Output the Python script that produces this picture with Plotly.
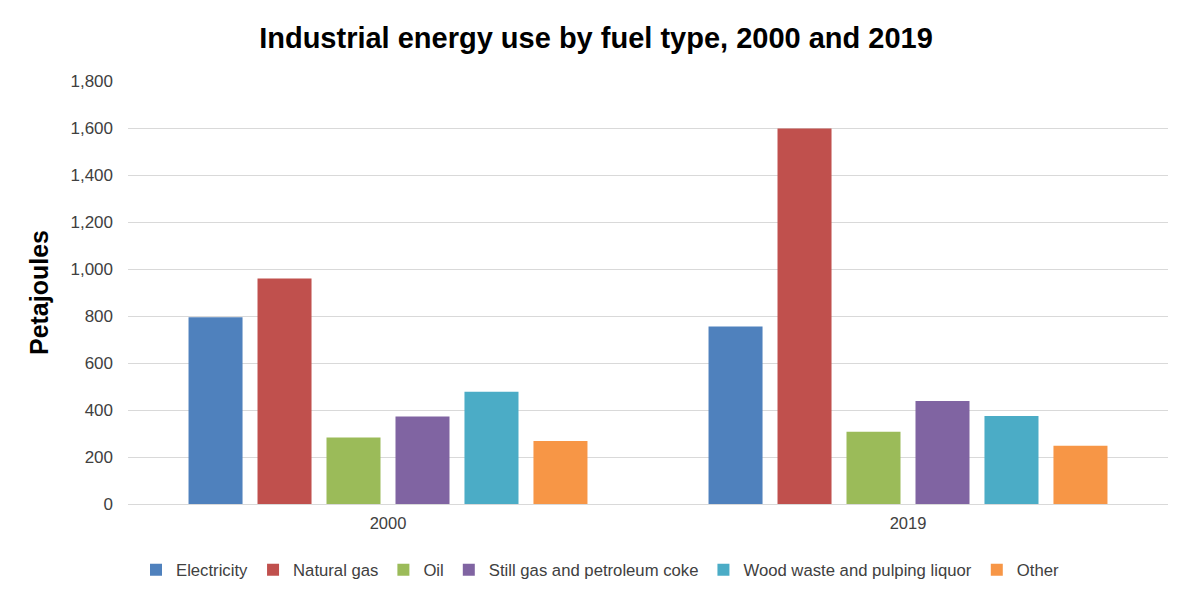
import plotly.graph_objects as go

years = ["2000", "2019"]
fuels = ["Electricity", "Natural gas", "Oil", "Still gas and petroleum coke",
         "Wood waste and pulping liquor", "Other"]
electricity = [795, 755]
natural_gas = [960, 1598]
oil = [283, 307]
still_gas = [372, 438]
wood_waste = [478, 375]
other = [268, 248]
colors = ["#4F81BD", "#C0504D", "#9BBB59", "#8064A2", "#4BACC6", "#F79646"]
y_ticks = [0, 200, 400, 600, 800, 1000, 1200, 1400, 1600, 1800]

series = [electricity, natural_gas, oil, still_gas, wood_waste, other]
FONT = "Liberation Sans, Arial, sans-serif"

fig = go.Figure()
for name, vals, col in zip(fuels, series, colors):
    fig.add_trace(go.Bar(x=years, y=vals, name=name, marker_color=col,
                         marker_line_width=0))

fig.update_layout(
    width=1191, height=601,
    paper_bgcolor="white", plot_bgcolor="white",
    margin=dict(l=120, r=31, t=73, b=105),
    barmode="group", bargap=0.204, bargroupgap=0.217,
    font=dict(family=FONT, color="#404040", size=16),
    title=dict(text="<b>Industrial energy use by fuel type, 2000 and 2019</b>",
               x=588 / 1191, xref="container", xanchor="center",
               y=1 - 30 / 601, yref="container", yanchor="middle",
               font=dict(family=FONT, size=29, color="#000000")),
    legend=dict(orientation="h", x=592 / 1191, xref="container", xanchor="center",
                y=(601 - 562) / 601, yref="container", yanchor="middle",
                font=dict(family=FONT, size=16.7, color="#404040"),
                itemwidth=30, tracegroupgap=0),
    xaxis=dict(showline=True, linecolor="#D9D9D9", linewidth=1,
               ticks="", ticklabelstandoff=4,
               tickfont=dict(size=16.5, color="#404040")),
    yaxis=dict(range=[0, 1800], tickvals=y_ticks, tickformat=",",
               showgrid=True, gridcolor="#D9D9D9", gridwidth=1,
               zeroline=False, ticks="", ticklabelstandoff=14,
               tickfont=dict(size=17, color="#404040"),
               title=dict(text="<b>Petajoules</b>", standoff=14,
                          font=dict(family=FONT, size=25, color="#000000"))),
)

fig.write_html("out.html")
